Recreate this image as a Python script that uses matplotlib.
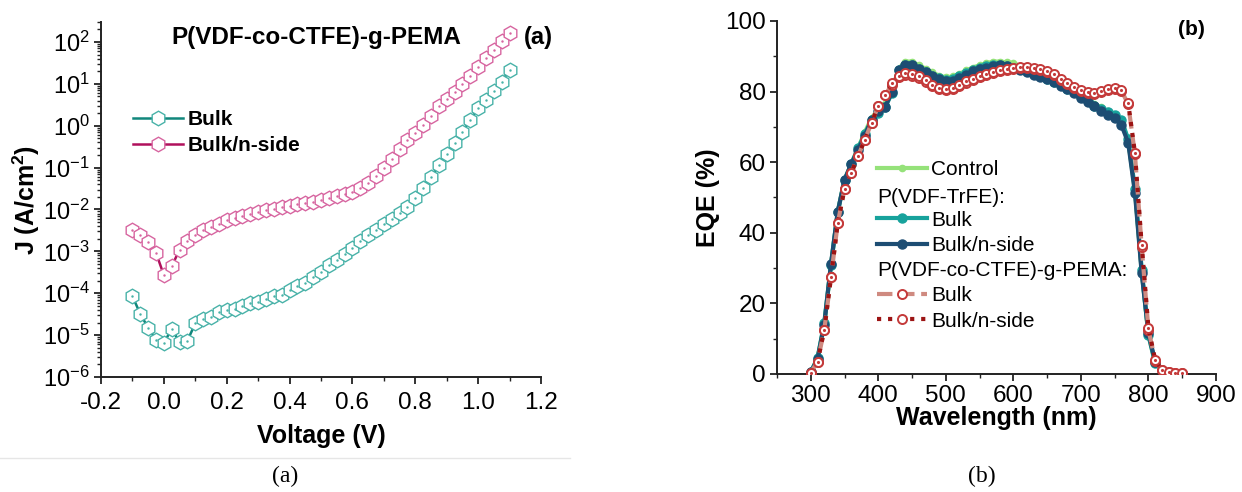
import numpy as np
import matplotlib
matplotlib.use("Agg")
import matplotlib.pyplot as plt
from matplotlib.lines import Line2D
from matplotlib.ticker import MultipleLocator, LogLocator, NullFormatter

plt.rcParams['font.family'] = ['Liberation Sans', 'DejaVu Sans']
plt.rcParams['mathtext.fontset'] = 'custom'
plt.rcParams['mathtext.rm'] = 'Liberation Sans'
plt.rcParams['mathtext.bf'] = 'Liberation Sans:bold'
plt.rcParams['axes.linewidth'] = 1.4

# (a) J-V curves
voltage = [-0.1, -0.075, -0.05, -0.025, 0.0, 0.025, 0.05, 0.075, 0.1, 0.125,
           0.15, 0.175, 0.2, 0.225, 0.25, 0.275, 0.3, 0.325, 0.35, 0.375,
           0.4, 0.425, 0.45, 0.475, 0.5, 0.525, 0.55, 0.575, 0.6, 0.625,
           0.65, 0.675, 0.7, 0.725, 0.75, 0.775, 0.8, 0.825, 0.85, 0.875,
           0.9, 0.925, 0.95, 0.975, 1.0, 1.025, 1.05, 1.075, 1.1]
j_bulk = [8.5e-5, 3.2e-5, 1.5e-5, 7.8e-6, 6.5e-6, 1.4e-5, 6.8e-6, 7.4e-6, 1.9e-5, 2.4e-5,
          2.7e-5, 3.5e-5, 3.9e-5, 4.1e-5, 4.9e-5, 5.9e-5, 6.2e-5, 7.4e-5, 8.5e-5, 9.3e-5,
          1.18e-4, 1.46e-4, 1.8e-4, 2.4e-4, 3.2e-4, 4.6e-4, 6.3e-4, 8.7e-4, 1.22e-3, 1.77e-3,
          2.4e-3, 3.3e-3, 4.4e-3, 6.0e-3, 8.3e-3, 1.15e-2, 1.9e-2, 3.2e-2, 6.0e-2, 0.113,
          0.21, 0.39, 0.71, 1.4, 2.6, 4.2, 6.8, 11, 22]
j_nside = [3.2e-3, 2.4e-3, 1.66e-3, 9.3e-4, 2.7e-4, 4.4e-4, 1.1e-3, 1.8e-3, 2.5e-3, 3.2e-3,
           3.8e-3, 4.6e-3, 5.5e-3, 6.3e-3, 6.9e-3, 7.8e-3, 8.5e-3, 9.5e-3, 1.05e-2, 1.15e-2,
           1.23e-2, 1.32e-2, 1.42e-2, 1.55e-2, 1.7e-2, 1.85e-2, 2.05e-2, 2.3e-2, 2.6e-2, 3.2e-2,
           4.3e-2, 6.4e-2, 0.10, 0.16, 0.28, 0.45, 0.68, 1.07, 1.74, 2.9,
           4.4, 6.4, 9.8, 15, 25, 42, 66, 105, 163]

# (b) EQE spectra
wl = list(range(300, 820, 10))
eqe_control = [0.5, 4.5, 14, 31, 46, 55, 59.5, 64, 68.5, 72.5,
               75, 76.5, 80, 86.5, 88.5, 88.5, 87.5, 86.5, 85.5, 84.5,
               84, 84.3, 85, 86, 86.8, 87.5, 88, 88.5, 88.5, 88.3,
               88, 87.3, 86.5, 85.8, 85, 84.3, 83.5, 82.5, 81.5, 80.5,
               79, 77.8, 76.5, 75.5, 74.5, 73.5, 72, 66, 52, 29,
               11, 3]
eqe_trfe_bulk = [0.5, 4.5, 14.5, 31, 46, 55, 59.5, 64, 68, 72,
                 74, 75.5, 79.5, 86, 87.5, 87.5, 86.5, 85.5, 84.5, 83.8,
                 83.3, 83.5, 84.3, 85.3, 86, 86.7, 87.2, 87.5, 87.5, 87.2,
                 86.8, 86.3, 85.8, 85, 84.3, 83.5, 82.7, 81.8, 80.8, 79.8,
                 78.5, 77.2, 76, 75, 74.2, 73.3, 72, 66.5, 52.5, 29.5,
                 11, 3]
eqe_trfe_nside = [0.5, 4.2, 14, 31.3, 46, 55, 59.5, 63.5, 67.5, 72,
                  74.5, 75.5, 80, 86.2, 87.5, 87.5, 86.5, 85.5, 84.5, 83.5,
                  83, 83, 83.8, 84.8, 85.7, 86.3, 86.8, 87.3, 87.5, 87.2,
                  86.8, 86.2, 85.5, 84.8, 84.2, 83.5, 82.6, 81.7, 80.6, 79.5,
                  78.2, 77, 76, 74.5, 73.5, 72.5, 70.5, 65.5, 51.3, 28.5,
                  11.5, 3.5]
wl_pema = list(range(300, 860, 10))
eqe_pema_bulk = [0.4, 3.5, 12.5, 27.5, 42.8, 52.5, 57, 61.7, 66.4, 71.1,
                 76, 79, 82, 84, 84.8, 84.5, 83.8, 82.7, 81.5, 80.6,
                 80.4, 80.7, 81.6, 82.5, 83.3, 84, 84.7, 85.2, 85.7, 86.1,
                 86.4, 86.7, 86.7, 86.5, 86.1, 85.5, 84.6, 83.4, 82.2, 81,
                 80.1, 79.6, 79.4, 79.9, 80.5, 80.8, 80.2, 76.5, 62.2, 36,
                 12.5, 3.8, 1.0, 0.5, 0.3, 0.2]
eqe_pema_nside = [0.4, 3.5, 12.5, 27.5, 42.8, 52.5, 57, 61.7, 66.4, 71.1,
                  76, 79, 82.3, 84.3, 85.3, 85, 84.3, 83.2, 82, 81,
                  80.8, 81.1, 82, 82.9, 83.7, 84.3, 85, 85.5, 86, 86.4,
                  86.7, 87, 87, 86.8, 86.4, 85.8, 84.9, 83.7, 82.5, 81.3,
                  80.4, 79.9, 79.7, 80.2, 80.8, 81.1, 80.5, 76.8, 62.6, 36.5,
                  12.9, 4, 1.1, 0.5, 0.3, 0.2]

fig = plt.figure(figsize=(12.42, 4.92), dpi=100)
W, H = 1242, 492
ax1 = fig.add_axes([101 / W, 1 - 377 / H, 440 / W, 355 / H])
ax2 = fig.add_axes([777 / W, 1 - 374 / H, 439 / W, 353 / H])

# ---------- panel (a) ----------
teal_line, teal_mk = '#11877c', '#48b2a8'
mag_line, mag_mk = '#b0105c', '#d765a0'
for ydata, lc, mc in [(j_bulk, teal_line, teal_mk),
                      (j_nside, mag_line, mag_mk)]:
    ax1.plot(voltage, ydata, '-', color=lc, lw=1.8, zorder=2)
    ax1.plot(voltage, ydata, 'h', ms=10.5, mfc='white', mec=mc, mew=1.0, zorder=3)
    ax1.plot(voltage, ydata, '.', ms=1.5, color=mc, zorder=4)

ax1.set_yscale('log')
ax1.set_xlim(-0.2, 1.2)
ax1.set_ylim(1e-6, 300)
ax1.xaxis.set_major_locator(MultipleLocator(0.2))
ax1.xaxis.set_minor_locator(MultipleLocator(0.1))
ax1.yaxis.set_major_locator(LogLocator(base=10, numticks=20))
ax1.yaxis.set_minor_locator(LogLocator(base=10, subs=np.arange(2, 10), numticks=20))
ax1.yaxis.set_minor_formatter(NullFormatter())
ax1.xaxis.set_major_formatter(plt.FuncFormatter(lambda v, p: f'{v:.1f}'))

ax1.set_xlabel('Voltage (V)', fontsize=18, fontweight='bold', labelpad=7)
ax1.set_ylabel(r'J (A/cm$\mathbf{^2}$)', fontsize=18, fontweight='bold', labelpad=1)
ax1.text(0.49, 0.955, 'P(VDF-co-CTFE)-g-PEMA', transform=ax1.transAxes,
         fontsize=17.5, fontweight='bold', ha='center', va='center')
ax1.text(0.995, 0.955, '(a)', transform=ax1.transAxes,
         fontsize=17, fontweight='bold', ha='center', va='center')

h_bulk = Line2D([], [], color=teal_line, lw=1.8, marker='h', ms=10.5,
                mfc='white', mec=teal_mk, mew=1.0)
h_nside = Line2D([], [], color=mag_line, lw=1.8, marker='h', ms=10.5,
                 mfc='white', mec=mag_mk, mew=1.0)
ax1.legend([h_bulk, h_nside], ['Bulk', 'Bulk/n-side'], loc='upper left',
           bbox_to_anchor=(0.031, 0.805), frameon=False, handlelength=2.4,
           handletextpad=0.2, labelspacing=0.35, prop={'weight': 'bold', 'size': 15})

# ---------- panel (b) ----------
c_control = '#95e27a'
c_trfe_b = '#17a29c'
c_trfe_n = '#1d4d73'
c_pema_b = '#cf8a80'
c_pema_n = '#9c1414'
c_pema_mk = '#c43a3a'

ax2.plot(wl, eqe_control, '-o', color=c_control, lw=3, ms=4.5, zorder=2)
ax2.plot(wl, eqe_trfe_bulk, '-o', color=c_trfe_b, lw=3, ms=6.5, zorder=3)
ax2.plot(wl, eqe_trfe_nside, '-o', color=c_trfe_n, lw=3, ms=6.5, zorder=4)
ax2.plot(wl_pema, eqe_pema_bulk, '--', color=c_pema_b, lw=3, zorder=5)
ax2.plot(wl_pema, eqe_pema_bulk, 'o', ms=6.5, mfc='white', mec=c_pema_mk, mew=1.4, zorder=6)
ax2.plot(wl_pema, eqe_pema_nside, ':', color=c_pema_n, lw=3, zorder=7)
ax2.plot(wl_pema, eqe_pema_nside, 'o', ms=6.5, mfc='white', mec=c_pema_mk, mew=1.4, zorder=8)
ax2.plot(wl_pema, eqe_pema_nside, '.', ms=2.5, color=c_pema_mk, zorder=9)

ax2.set_xlim(250, 900)
ax2.set_ylim(0, 100)
ax2.xaxis.set_major_locator(MultipleLocator(100))
ax2.xaxis.set_minor_locator(MultipleLocator(50))
ax2.yaxis.set_major_locator(MultipleLocator(20))
ax2.yaxis.set_minor_locator(MultipleLocator(10))
ax2.set_xlabel('Wavelength (nm)', fontsize=18, fontweight='bold', labelpad=-1)
ax2.set_ylabel('EQE (%)', fontsize=18, fontweight='bold', labelpad=4)
ax2.text(0.945, 0.975, '(b)', transform=ax2.transAxes,
         fontsize=15, fontweight='bold', ha='center', va='center')

blank = Line2D([], [], color='none')
hc = Line2D([], [], color=c_control, lw=3, marker='o', ms=4.5)
hb = Line2D([], [], color=c_trfe_b, lw=3, marker='o', ms=6.5)
hn = Line2D([], [], color=c_trfe_n, lw=3, marker='o', ms=6.5)
hpb = Line2D([], [], color=c_pema_b, lw=3, ls='--', marker='o', ms=6.5,
             mfc='white', mec=c_pema_mk, mew=1.4)
hpn = Line2D([], [], color=c_pema_n, lw=3, ls=':', marker='o', ms=6.5,
             mfc='white', mec=c_pema_mk, mew=1.4)
leg = ax2.legend([hc, blank, hb, hn, blank, hpb, hpn],
                 ['Control', ' ', 'Bulk', 'Bulk/n-side', ' ', 'Bulk', 'Bulk/n-side'],
                 loc='upper left', bbox_to_anchor=(0.185, 0.659), frameon=False,
                 handlelength=2.4, handletextpad=0.2, labelspacing=0.30,
                 fontsize=15)
ax2.text(0.228, 0.499, 'P(VDF-TrFE):', transform=ax2.transAxes, fontsize=15,
         ha='left', va='center')
ax2.text(0.228, 0.294, 'P(VDF-co-CTFE)-g-PEMA:', transform=ax2.transAxes,
         fontsize=15, ha='left', va='center')

for ax in (ax1, ax2):
    for s in ('top', 'right'):
        ax.spines[s].set_visible(False)
    for s in ('left', 'bottom'):
        ax.spines[s].set_color('#222222')
    ax.tick_params(which='major', direction='out', length=5, width=1.3,
                   labelsize=17.5, colors='#222222', labelcolor='black', pad=3)
    ax.tick_params(which='minor', direction='out', length=3, width=1.0, colors='#222222')
ax1.tick_params(axis='x', which='major', pad=6)
ax1.tick_params(axis='y', which='major', labelsize=17)

# captions and separator
fig.add_artist(Line2D([0, 570 / W], [1 - 458 / H, 1 - 458 / H], color='#e6e6e6', lw=1))
fig.text(285 / W, 1 - 476 / H, '(a)', family=['Liberation Serif', 'DejaVu Serif'],
         fontsize=17, ha='center', va='center')
fig.text(982 / W, 1 - 476 / H, '(b)', family=['Liberation Serif', 'DejaVu Serif'],
         fontsize=17, ha='center', va='center')

fig.savefig('out.png', dpi=100)
